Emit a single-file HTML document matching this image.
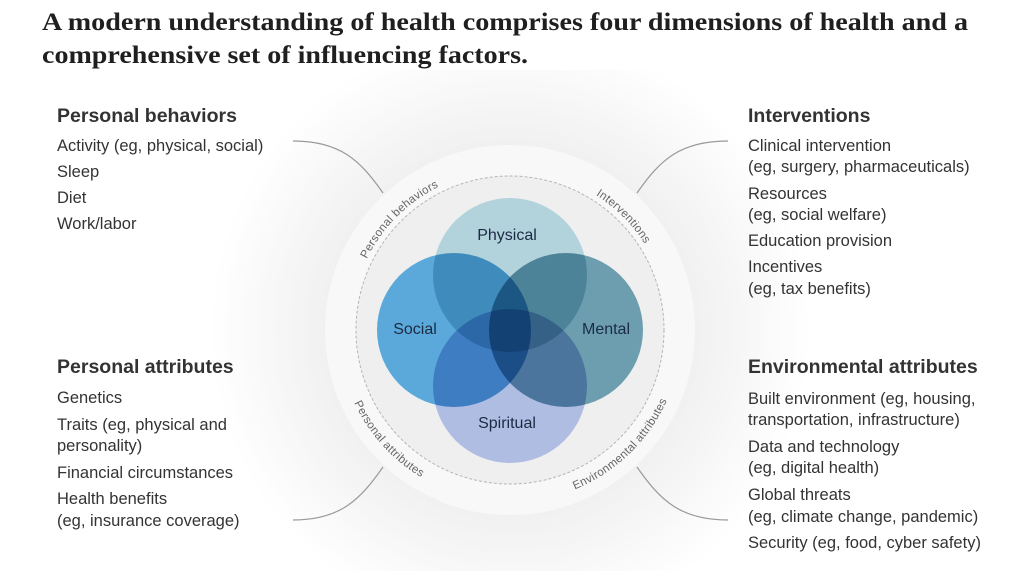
<!DOCTYPE html>
<html><head><meta charset="utf-8"><style>
html,body{margin:0;padding:0;background:#fff;}
svg{display:block}
.t{font-family:"Liberation Serif",serif;font-weight:bold;font-size:25px;fill:#1f1f1f}
.h{font-family:"Liberation Sans",sans-serif;font-size:19.5px;fill:#333;font-weight:bold}
.i{font-family:"Liberation Sans",sans-serif;font-size:16.5px;fill:#333}
.a{font-family:"Liberation Sans",sans-serif;font-size:11.5px;fill:#666;letter-spacing:0.3px}
.v{font-family:"Liberation Sans",sans-serif;font-size:16px;fill:#1c2a44}
</style></head><body>
<svg width="1023" height="571" viewBox="0 0 1023 571" xmlns="http://www.w3.org/2000/svg">
<defs>
<radialGradient id="glow" cx="510" cy="330" r="300" gradientUnits="userSpaceOnUse">
<stop offset="0.55" stop-color="#eeeeee"/><stop offset="1" stop-color="#ffffff"/>
</radialGradient>
<path id="pb" d="M 350.6 343.9 A 160 160 0 0 1 523.9 170.6"/>
<path id="pi" d="M 496.1 170.6 A 160 160 0 0 1 669.4 343.9"/>
<path id="pa" d="M 339.7 306.1 A 172 172 0 0 0 516.0 501.9"/>
<path id="pe" d="M 492.0 501.1 A 172 172 0 0 0 681.6 318.0"/>
</defs>
<rect x="0" y="0" width="1023" height="571" fill="#fff"/>
<rect x="200" y="70" width="620" height="501" fill="url(#glow)"/>
<text class="t" x="42" y="30" textLength="926" lengthAdjust="spacingAndGlyphs">A modern understanding of health comprises four dimensions of health and a</text>
<text class="t" x="42" y="63" textLength="486" lengthAdjust="spacingAndGlyphs">comprehensive set of influencing factors.</text>

<circle cx="510" cy="330" r="185" fill="#f8f8f8"/>
<circle cx="510" cy="330" r="154" fill="#efefef" stroke="#b5b5b5" stroke-width="1" stroke-dasharray="3,2"/>

<g fill="none" stroke="#9a9a9a" stroke-width="1.2">
<path d="M293 141 C340 141 360 160 383 193"/>
<path d="M728 141 C680 141 660 160 637 193"/>
<path d="M383 467 C360 500 340 520 293 520"/>
<path d="M637 467 C660 500 680 520 728 520"/>
</g>

<g style="isolation:isolate">
<circle cx="510" cy="275" r="77" fill="#b2d3dc" style="mix-blend-mode:multiply"/>
<circle cx="454" cy="330" r="77" fill="#5aa9da" style="mix-blend-mode:multiply"/>
<circle cx="566" cy="330" r="77" fill="#6d9eb0" style="mix-blend-mode:multiply"/>
<circle cx="510" cy="386" r="77" fill="#b0bde3" style="mix-blend-mode:multiply"/>
</g>
<text class="v" x="507" y="240" text-anchor="middle">Physical</text>
<text class="v" x="415" y="334" text-anchor="middle">Social</text>
<text class="v" x="606" y="334" text-anchor="middle">Mental</text>
<text class="v" x="507" y="428" text-anchor="middle">Spiritual</text>

<text class="a"><textPath href="#pb" startOffset="50%" text-anchor="middle">Personal behaviors</textPath></text>
<text class="a"><textPath href="#pi" startOffset="50%" text-anchor="middle">Interventions</textPath></text>
<text class="a"><textPath href="#pa" startOffset="50%" text-anchor="middle">Personal attributes</textPath></text>
<text class="a"><textPath href="#pe" startOffset="50%" text-anchor="middle">Environmental attributes</textPath></text>

<text class="h" x="57" y="122">Personal behaviors</text>
<text class="i" x="57" y="151">Activity (eg, physical, social)</text>
<text class="i" x="57" y="177">Sleep</text>
<text class="i" x="57" y="203">Diet</text>
<text class="i" x="57" y="229">Work/labor</text>

<text class="h" x="57" y="373">Personal attributes</text>
<text class="i" x="57" y="403">Genetics</text>
<text class="i" x="57" y="430">Traits (eg, physical and</text>
<text class="i" x="57" y="451">personality)</text>
<text class="i" x="57" y="478">Financial circumstances</text>
<text class="i" x="57" y="504">Health benefits</text>
<text class="i" x="57" y="526">(eg, insurance coverage)</text>

<text class="h" x="748" y="122">Interventions</text>
<text class="i" x="748" y="151">Clinical intervention</text>
<text class="i" x="748" y="172">(eg, surgery, pharmaceuticals)</text>
<text class="i" x="748" y="199">Resources</text>
<text class="i" x="748" y="220">(eg, social welfare)</text>
<text class="i" x="748" y="246">Education provision</text>
<text class="i" x="748" y="272">Incentives</text>
<text class="i" x="748" y="294">(eg, tax benefits)</text>

<text class="h" x="748" y="373">Environmental attributes</text>
<text class="i" x="748" y="404">Built environment (eg, housing,</text>
<text class="i" x="748" y="425">transportation, infrastructure)</text>
<text class="i" x="748" y="452">Data and technology</text>
<text class="i" x="748" y="473">(eg, digital health)</text>
<text class="i" x="748" y="500">Global threats</text>
<text class="i" x="748" y="522">(eg, climate change, pandemic)</text>
<text class="i" x="748" y="548">Security (eg, food, cyber safety)</text>
</svg>
</body></html>
